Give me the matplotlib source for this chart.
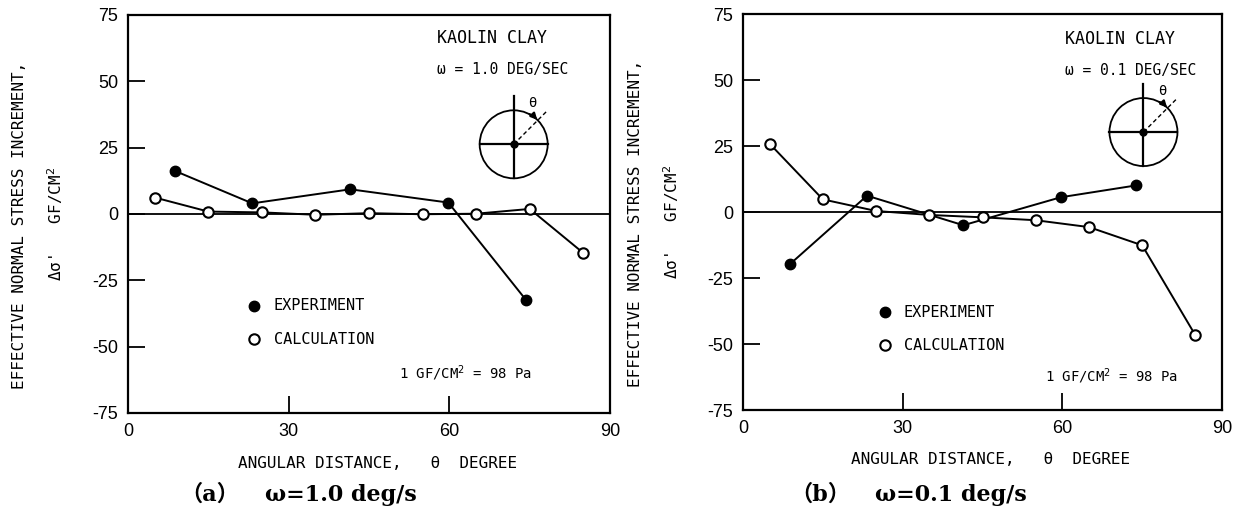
import numpy as np
import matplotlib
matplotlib.use('Agg')
import matplotlib.pyplot as plt
from matplotlib.patches import Circle

plt.rcParams['axes.unicode_minus'] = False

# ---- data ----
calc_x = [5, 15, 25, 35, 45, 55, 65, 75, 85]

# (a) omega = 1.0 deg/s
exp_x_a = [8.8, 23.2, 41.5, 59.8, 74.3]
exp_y_a = [16.2, 4.0, 9.3, 4.3, -32.4]
calc_y_a = [6.2, 0.9, 0.6, -0.3, 0.3, -0.1, 0.1, 1.9, -14.7]

# (b) omega = 0.1 deg/s
exp_x_b = [8.9, 23.3, 41.4, 59.7, 73.9]
exp_y_b = [-19.6, 6.2, -5.0, 5.6, 10.1]
calc_y_b = [25.9, 4.8, 0.4, -1.1, -2.0, -3.1, -5.7, -12.6, -46.7]

xticks = [0, 30, 60, 90]
yticks = [-75, -50, -25, 0, 25, 50, 75]

MONO = 'DejaVu Sans Mono'
TICKFONT = 'Liberation Sans'

fig = plt.figure(figsize=(12.33, 5.21), dpi=100)
ax_a = fig.add_axes([0.1038, 0.2073, 0.391, 0.764])
ax_b = fig.add_axes([0.6026, 0.2130, 0.3885, 0.760])


def draw_schematic(ax, cx, cy, ax_w_px, ax_h_px):
    # small circle with angle definition, drawn in its own equal-aspect inset
    w = 108.8 / ax_w_px
    h = 108.8 / ax_h_px
    ins = ax.inset_axes([cx - w / 2, cy - h / 2, w, h])
    ins.set_xlim(-1.6, 1.6)
    ins.set_ylim(-1.6, 1.6)
    ins.set_aspect('equal')
    ins.axis('off')
    ins.add_patch(Circle((0, 0), 1.0, fill=False, lw=1.3, color='black'))
    ins.plot([0, 0], [-1.0, 1.42], color='black', lw=1.6)
    ins.plot([-1.0, 1.0], [0, 0], color='black', lw=1.6)
    ins.plot([0, 1.0], [0, 1.0], color='black', lw=1.0, ls=(0, (3, 2)))
    ins.plot([0], [0], 'o', color='black', ms=5)
    a0, a1 = np.deg2rad(62), np.deg2rad(46)
    ins.annotate('', xy=(np.cos(a1), np.sin(a1)), xytext=(np.cos(a0), np.sin(a0)),
                 arrowprops=dict(arrowstyle='-|>', color='black', lw=1.6,
                                 mutation_scale=9, shrinkA=0, shrinkB=0,
                                 connectionstyle='arc3,rad=-0.1'))
    ins.text(0.56, 1.22, 'θ', family=MONO, fontsize=10, ha='center', va='center')


def style_panel(ax, omega_text, txt_x, txt_y, leg_x, leg_y, unit_xy, circ_xy, size_px):
    ax.set_xlim(0, 90)
    ax.set_ylim(-75, 75)
    ax.set_xticks(xticks)
    ax.set_yticks(yticks)
    ax.tick_params(direction='in', length=12, width=1.3, pad=7,
                   labelsize=13, top=False, right=False)
    for lab in ax.get_xticklabels() + ax.get_yticklabels():
        lab.set_family(TICKFONT)
    for sp in ax.spines.values():
        sp.set_linewidth(1.6)
    ax.axhline(0, color='black', lw=1.3, zorder=1)

    ax.text(txt_x, txt_y, 'KAOLIN CLAY', transform=ax.transAxes,
            family=MONO, fontsize=12, va='center', ha='left')
    ax.text(txt_x, txt_y - 0.08, omega_text, transform=ax.transAxes,
            family=MONO, fontsize=10.5, va='center', ha='left')

    ax.plot([leg_x], [leg_y], 'o', color='black', ms=7.5, transform=ax.transAxes)
    ax.text(leg_x + 0.04, leg_y, 'EXPERIMENT', transform=ax.transAxes,
            family=MONO, fontsize=11, va='center', ha='left')
    ax.plot([leg_x], [leg_y - 0.084], 'o', mfc='white', mec='black', mew=1.5,
            ms=7.5, transform=ax.transAxes)
    ax.text(leg_x + 0.04, leg_y - 0.084, 'CALCULATION', transform=ax.transAxes,
            family=MONO, fontsize=11, va='center', ha='left')

    ax.text(unit_xy[0], unit_xy[1], '1 GF/CM$^2$ = 98 Pa', transform=ax.transAxes,
            family=MONO, fontsize=10, va='center', ha='left')

    ax.text(-0.224, 0.472, 'EFFECTIVE NORMAL STRESS INCREMENT,', transform=ax.transAxes,
            family=MONO, fontsize=11.5, rotation=90, va='center', ha='center')
    ax.text(-0.151, 0.476, "Δσ'   GF/CM$^2$", transform=ax.transAxes,
            family=MONO, fontsize=11.5, rotation=90, va='center', ha='center')
    ax.text(0.517, -0.126, 'ANGULAR DISTANCE,   θ  DEGREE', transform=ax.transAxes,
            family=MONO, fontsize=11.5, va='center', ha='center')

    draw_schematic(ax, circ_xy[0], circ_xy[1], *size_px)


# panel (a)
ax_a.plot(exp_x_a, exp_y_a, '-o', color='black', lw=1.4, ms=7.5, zorder=3)
ax_a.plot(calc_x, calc_y_a, '-o', color='black', lw=1.4, ms=7.5, mfc='white',
          mec='black', mew=1.5, zorder=3)
style_panel(ax_a, 'ω = 1.0 DEG/SEC', 0.641, 0.943, 0.262, 0.269,
            (0.563, 0.101), (0.80, 0.675), (482, 398))

# panel (b)
ax_b.plot(exp_x_b, exp_y_b, '-o', color='black', lw=1.4, ms=7.5, zorder=3)
ax_b.plot(calc_x, calc_y_b, '-o', color='black', lw=1.4, ms=7.5, mfc='white',
          mec='black', mew=1.5, zorder=3)
style_panel(ax_b, 'ω = 0.1 DEG/SEC', 0.673, 0.937, 0.296, 0.247,
            (0.63, 0.086), (0.836, 0.702), (479, 396))

# captions
paren_font = ['DejaVu Serif', 'Noto Sans CJK SC']
fig.text(180 / 1233, 0.05, '（a）', family=paren_font, fontsize=16, fontweight='bold',
         va='center', ha='left')
fig.text(265 / 1233, 0.05, 'ω=1.0 deg/s', family=['DejaVu Serif'], fontsize=16,
         fontweight='bold', va='center', ha='left')
fig.text(790 / 1233, 0.05, '（b）', family=paren_font, fontsize=16, fontweight='bold',
         va='center', ha='left')
fig.text(875 / 1233, 0.05, 'ω=0.1 deg/s', family=['DejaVu Serif'], fontsize=16,
         fontweight='bold', va='center', ha='left')

fig.savefig('out.png', dpi=100)
